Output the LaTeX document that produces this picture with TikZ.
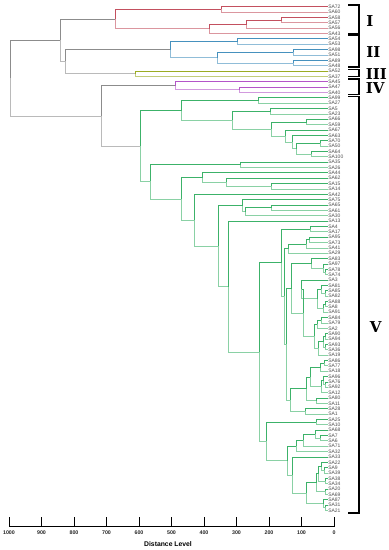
\documentclass[tikz,border=0pt]{standalone}
\usepackage{fontspec}
\setmainfont{Liberation Sans}
\newfontfamily\numfont{DejaVu Serif}
\usetikzlibrary{calc}
\definecolor{cI}{RGB}{195,80,95}
\definecolor{cII}{RGB}{70,145,190}
\definecolor{cIII}{RGB}{155,172,35}
\definecolor{cIV}{RGB}{180,85,200}
\definecolor{cV}{RGB}{60,178,105}
\definecolor{gr}{RGB}{140,140,140}
\definecolor{lab}{RGB}{80,80,80}
\newcommand\jn[5]{%
  \coordinate (tmpm) at ($(#3)!0.5!(#4)$);
  \coordinate (tmpx) at (#2,0);
  \coordinate (#1) at (tmpm -| tmpx);
  \draw[#5] (#3) -| (#1);
  \draw[#5!60!white] (#1) |- (#4);
}
\tikzset{
  leaf/.style={anchor=west,inner sep=0.4pt,font=\fontsize{5}{5}\selectfont,text=lab},
  brk/.style={line width=1.4pt,black},
  roman/.style={anchor=west,inner sep=0pt,font=\numfont\bfseries\fontsize{15}{15}\selectfont},
  ticklab/.style={inner sep=0pt,font=\bfseries\fontsize{5.3}{5.3}\selectfont,text=black!85},
}
\begin{document}
\begin{tikzpicture}[x=1pt,y=-1pt,line width=0.75pt]
\useasboundingbox (0,0) rectangle (389,550);
\foreach \nm [count=\i] in {SA72,SA60,SA58,SA57,SA56,SA43,SA54,SA53,SA98,SA51,SA89,SA48,SA52,SA37,SA45,SA47,SA40,SA99,SA27,SA5,SA23,SA66,SA59,SA67,SA63,SA70,SA50,SA64,SA100,SA35,SA26,SA44,SA62,SA15,SA14,SA42,SA75,SA65,SA61,SA30,SA13,SA4,SA17,SA95,SA73,SA41,SA29,SA83,SA97,SA78,SA74,SA3,SA81,SA85,SA82,SA88,SA8,SA91,SA84,SA79,SA2,SA90,SA94,SA93,SA36,SA19,SA86,SA77,SA18,SA96,SA76,SA92,SA12,SA80,SA11,SA28,SA1,SA25,SA10,SA68,SA7,SA6,SA71,SA32,SA33,SA22,SA9,SA39,SA38,SA34,SA20,SA69,SA87,SA31,SA21}{
  \coordinate (\nm) at (327.5,{6.7+(\i-1)*5.36});
  \node[leaf] (t\nm) at (\nm) {\nm};
}
% Cluster I
\jn{a1}{221}{SA72}{SA60}{cI}
\jn{a2}{281.7}{SA58}{SA57}{cI}
\jn{a3}{246.7}{a2}{SA56}{cI}
\jn{a4}{209}{a3}{SA43}{cI}
\jn{cl1}{115}{a1}{a4}{cI}
% Cluster II
\jn{b1}{237.3}{SA54}{SA53}{cII}
\jn{b2}{293.3}{SA98}{SA51}{cII}
\jn{b3}{293.3}{SA89}{SA48}{cII}
\jn{b4}{217.3}{b2}{b3}{cII}
\jn{cl2}{170}{b1}{b4}{cII}
% Cluster III
\jn{cl3}{135}{SA52}{SA37}{cIII}
\jn{g1}{65.7}{cl2}{cl3}{gr}
\jn{g2}{60}{cl1}{g1}{gr}
% Cluster IV
\jn{d1}{239.3}{SA47}{SA40}{cIV}
\jn{cl4}{175}{SA45}{d1}{cIV}
% Cluster V
\jn{e1}{258.3}{SA99}{SA27}{cV}
\jn{e2}{270.7}{SA5}{SA23}{cV}
\jn{e3}{306.7}{SA66}{SA59}{cV}
\jn{e4}{320}{SA70}{SA50}{cV}
\jn{e5}{311.7}{SA64}{SA100}{cV}
\jn{e6}{296}{e4}{e5}{cV}
\jn{e7}{292}{SA63}{e6}{cV}
\jn{e8}{285}{SA67}{e7}{cV}
\jn{e9}{271.7}{e3}{e8}{cV}
\jn{e10}{232.3}{e2}{e9}{cV}
\jn{e11}{181.7}{e1}{e10}{cV}
\jn{f1}{240}{SA35}{SA26}{cV}
\jn{f2}{271.7}{SA15}{SA14}{cV}
\jn{f3}{226}{SA62}{f2}{cV}
\jn{f4}{202.7}{SA44}{f3}{cV}
\jn{h1}{271.7}{SA65}{SA61}{cV}
\jn{h2}{245}{h1}{SA30}{cV}
\jn{h3}{242}{SA75}{h2}{cV}
\jn{k1}{310}{SA4}{SA17}{cV}
\jn{k2}{309.3}{SA95}{SA73}{cV}
\jn{k3}{306}{k2}{SA41}{cV}
\jn{k4}{288.3}{k3}{SA29}{cV}
% G1
\jn{m0a}{325.5}{SA78}{SA74}{cV}
\jn{m0b}{323}{SA97}{m0a}{cV}
\jn{G1}{311.7}{SA83}{m0b}{cV}
% G2
\jn{m1}{325.5}{SA85}{SA82}{cV}
\jn{m2}{321}{SA81}{m1}{cV}
\jn{m3}{325.5}{SA88}{SA8}{cV}
\jn{m4}{323.5}{m3}{SA91}{cV}
\jn{m5}{317}{m2}{m4}{cV}
\jn{G2}{301.7}{SA3}{m5}{cV}
% G3, G4
\jn{n1}{321}{SA84}{SA79}{cV}
\jn{G3}{317.3}{n1}{SA2}{cV}
\jn{n2}{325.5}{SA90}{SA94}{cV}
\jn{n3}{325}{SA93}{SA36}{cV}
\jn{n4}{323}{n2}{n3}{cV}
\jn{G4}{318}{n4}{SA19}{cV}
\jn{G34}{314}{G3}{G4}{cV}
\jn{W}{303.3}{G2}{G34}{cV}
\jn{X}{291.7}{G1}{W}{cV}
% G5, G6
\jn{o1}{324}{SA86}{SA77}{cV}
\jn{o2}{320.5}{o1}{SA18}{cV}
\jn{o3}{325.5}{SA76}{SA92}{cV}
\jn{o4}{323.5}{SA96}{o3}{cV}
\jn{o5}{321.5}{o4}{SA12}{cV}
\jn{o6}{316}{SA80}{SA11}{cV}
\jn{o7}{310}{o2}{o5}{cV}
\jn{o8}{306}{o7}{o6}{cV}
\jn{o9}{305}{SA28}{SA1}{cV}
\jn{Y}{290}{o8}{o9}{cV}
\jn{L}{286}{X}{Y}{cV}
\jn{N3}{284}{k4}{L}{cV}
\jn{N2}{281.7}{k1}{N3}{cV}
% lower part
\jn{r1}{316}{SA25}{SA10}{cV}
\jn{p1}{320.7}{SA7}{SA6}{cV}
\jn{p2}{315}{SA68}{p1}{cV}
\jn{p3}{303.3}{p2}{SA71}{cV}
\jn{p4}{296}{p3}{SA32}{cV}
\jn{q1}{324.5}{SA9}{SA39}{cV}
\jn{q2}{321.5}{SA22}{q1}{cV}
\jn{q3}{325}{SA38}{SA34}{cV}
\jn{q4}{318}{q2}{q3}{cV}
\jn{q5}{325.5}{SA20}{SA69}{cV}
\jn{q6}{316.7}{q4}{q5}{cV}
\jn{q7}{325.5}{SA31}{SA21}{cV}
\jn{q8}{323}{SA87}{q7}{cV}
\jn{q9}{306.7}{q6}{q8}{cV}
\jn{q10}{292}{SA33}{q9}{cV}
\jn{p5}{287.3}{p4}{q10}{cV}
\jn{N1low}{266.7}{r1}{p5}{cV}
\jn{N1}{259.3}{N2}{N1low}{cV}
\jn{s1}{228.3}{SA13}{N1}{cV}
\jn{s2}{218.3}{h3}{s1}{cV}
\jn{s3}{194.3}{SA42}{s2}{cV}
\jn{s4}{181.7}{f4}{s3}{cV}
\jn{s5}{150.7}{f1}{s4}{cV}
\jn{cl5}{140}{e11}{s5}{cV}
\jn{g3}{101}{cl4}{cl5}{gr}
\jn{root}{10.5}{g2}{g3}{gr}
% brackets
\draw[brk] (348,5) -- (359,5) -- (359,33.5) -- (348,33.5);
\draw[brk] (348,35) -- (359,35) -- (359,67) -- (348,67);
\draw[brk] (348,69.5) -- (359,69.5) -- (359,76.5) -- (348,76.5);
\draw[brk] (348,79) -- (359,79) -- (359,94.5) -- (348,94.5);
\draw[brk] (348,96.5) -- (359,96.5) -- (359,513) -- (348,513);
\node[roman] (rI) at (366,21.5) {I};
\node[roman] (rII) at (366,52.5) {II};
\node[roman] (rIII) at (365.5,74) {III};
\node[roman] (rIV) at (365.5,88.5) {IV};
\node[roman] (rV) at (369.5,327) {V};
% axis
\coordinate (axL) at (9,526);
\coordinate (axR) at (334.5,526);
\draw[line width=0.8pt] (axL) -- (axR);
\foreach \k [count=\j from 0] in {1000,900,800,700,600,500,400,300,200,100,0}{
  \coordinate (tk\j) at ({9+\j*32.5},526);
  \coordinate (tt\j) at ({9+\j*32.5},517);
  \draw[line width=0.9pt] (tk\j) -- (tt\j);
  \node[ticklab] (tl\j) at ({9+\j*32.5},533) {\k};
}
\node[inner sep=0pt,font=\bfseries\fontsize{6.8}{6.8}\selectfont] (xlab) at (168,544) {Distance Level};
\end{tikzpicture}
\end{document}
